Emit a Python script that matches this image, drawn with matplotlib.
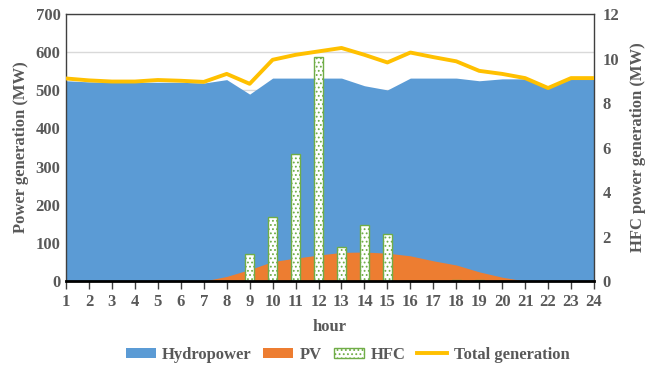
import matplotlib
matplotlib.use("Agg")
import matplotlib.pyplot as plt
from matplotlib.patches import Patch
from matplotlib.lines import Line2D
import numpy as np

hours = list(range(1, 25))
hydro = [525, 522, 521, 521, 521, 521, 519, 528, 490, 532, 532, 532,
         532, 512, 501, 532, 532, 532, 525, 530, 530, 505, 530, 530]
pv = [0, 0, 0, 0, 0, 0, 0, 12, 30, 51, 60, 68,
      75, 76, 73, 66, 53, 42, 24, 10, 0, 0, 0, 0]
hfc = [0, 0, 0, 0, 0, 0, 0, 0, 1.21, 2.86, 5.71, 10.05,
       1.51, 2.50, 2.11, 0, 0, 0.04, 0.04, 0, 0, 0, 0, 0]
total = [531, 526, 523, 523, 527, 525, 522, 543, 517, 580, 593, 602,
         611, 593, 573, 599, 587, 576, 551, 543, 532, 506, 532, 532]

plt.rcParams['font.family'] = ['Liberation Serif', 'DejaVu Serif']
plt.rcParams['font.weight'] = 'bold'
plt.rcParams['hatch.linewidth'] = 0.8
grey = '#595959'

fig = plt.figure(figsize=(6.46, 3.66), dpi=100)
ax = fig.add_axes([0.1022, 0.2322, 0.8173, 0.7295])
x = np.array(hours)

ax.set_axisbelow(True)
ax.yaxis.grid(True, color='#d9d9d9', linewidth=1)
ax.fill_between(x, 0, hydro, color='#5b9bd5', linewidth=0, zorder=2)
ax.fill_between(x, 0, pv, color='#ed7d31', linewidth=0, zorder=3)
ax.set_xlim(1, 24)
ax.set_ylim(0, 700)
ax.set_yticks(range(0, 701, 100))
ax.set_xticks(hours)
ax.tick_params(axis='y', length=0, labelsize=12, colors=grey, pad=4)
ax.tick_params(axis='x', length=6, width=1, direction='out', color='#404040', labelsize=12, labelcolor=grey, pad=3)
for lab in ax.get_xticklabels() + ax.get_yticklabels():
    lab.set_fontweight('bold')
ax.set_ylabel('Power generation (MW)', fontsize=12, fontweight='bold', color=grey, labelpad=5)
ax.set_xlabel('hour', fontsize=12, fontweight='bold', color=grey, labelpad=7)
for s in ax.spines.values():
    s.set_color('#404040')
    s.set_linewidth(1)
ax.spines['bottom'].set_visible(False)

ax2 = ax.twinx()
ax2.bar(x, hfc, width=0.4, facecolor='white', edgecolor='#70ad47', hatch='....', linewidth=1, zorder=4)
ax2.plot(x, np.array(total) / (700 / 12), color='#ffc000', linewidth=2.8, zorder=6)
ax2.set_ylim(0, 12)
ax2.set_yticks(range(0, 13, 2))
ax2.tick_params(axis='y', length=0, labelsize=12, colors=grey, pad=6)
for lab in ax2.get_yticklabels():
    lab.set_fontweight('bold')
ax2.set_ylabel('HFC power generation (MW)', fontsize=12, fontweight='bold', color=grey, labelpad=8)
for s in ax2.spines.values():
    s.set_visible(False)
ax2.spines['bottom'].set_visible(True)
ax2.spines['bottom'].set_color('black')
ax2.spines['bottom'].set_linewidth(2)
ax2.spines['bottom'].set_zorder(10)

ax.set_zorder(ax2.get_zorder() - 1)
ax2.patch.set_visible(False)

handles = [Patch(facecolor='#5b9bd5', edgecolor='none'),
           Patch(facecolor='#ed7d31', edgecolor='none'),
           Patch(facecolor='white', edgecolor='#70ad47', hatch='....'),
           Line2D([0], [0], color='#ffc000', linewidth=2.8)]
labels = ['Hydropower', 'PV', 'HFC', 'Total generation']
leg = fig.legend(handles, labels, loc='center', bbox_to_anchor=(0.538, 0.03), ncol=4,
                 frameon=False, prop={'size': 12, 'weight': 'bold'}, handlelength=1.8,
                 handleheight=0.6, handletextpad=0.4, columnspacing=0.7)
for t in leg.get_texts():
    t.set_color(grey)

fig.savefig('out.png', dpi=100)
